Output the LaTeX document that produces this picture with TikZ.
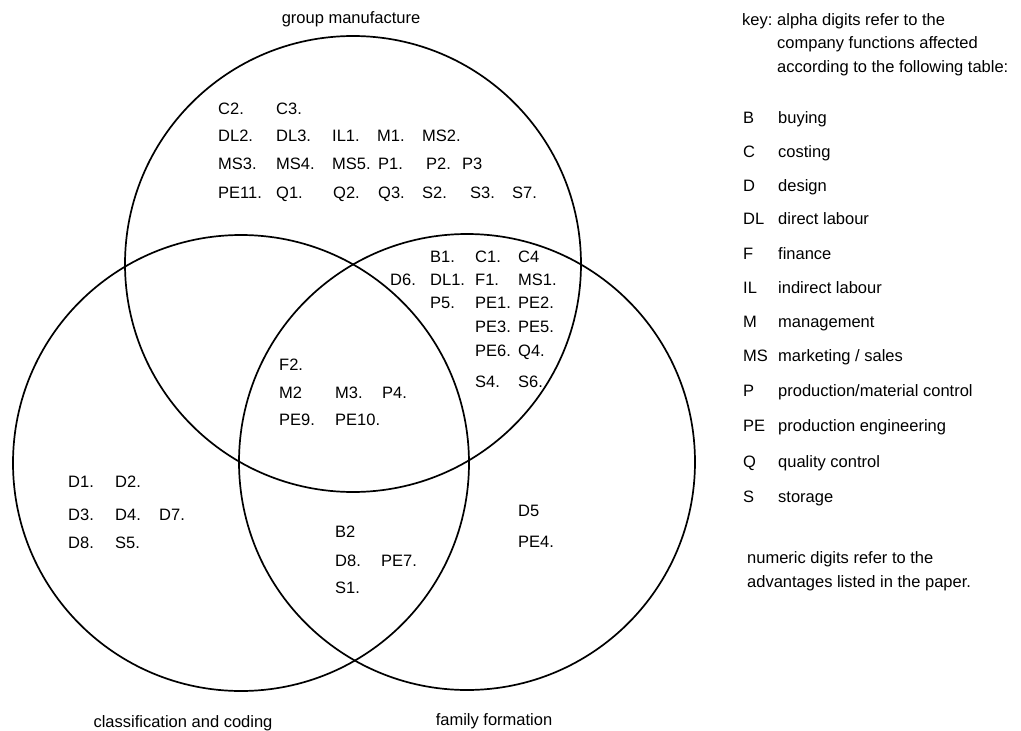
\documentclass[tikz,border=0pt]{standalone}
\usepackage{fontspec}
\setmainfont{Liberation Sans}
\begin{document}
\begin{tikzpicture}[x=1pt,y=-1pt,
  ring/.style={circle,draw,line width=1.7pt,minimum size=456pt,inner sep=0pt},
  lab/.style={anchor=base west,inner sep=0pt,font=\fontsize{16.5}{19}\selectfont},
  title/.style={anchor=base,inner sep=0pt,font=\fontsize{16.5}{19}\selectfont}]
\useasboundingbox (0,0) rectangle (1021,731);
% circles
\node[ring] (gm) at (353,264) {};
\node[ring] (cc) at (241,463) {};
\node[ring] (ff) at (467,462) {};
% circle titles
\node[title] (tgm) at (351,23) {group manufacture};
\node[title] (tcc) at (183,727) {classification and coding};
\node[title] (tff) at (494,725) {family formation};
% group manufacture only
\node[lab] (a1) at (218,114) {C2.};
\node[lab] (a2) at (276,114) {C3.};
\node[lab] (a3) at (218,141) {DL2.};
\node[lab] (a4) at (276,141) {DL3.};
\node[lab] (a5) at (332,141) {IL1.};
\node[lab] (a6) at (377,141) {M1.};
\node[lab] (a7) at (422,141) {MS2.};
\node[lab] (a8) at (218,169) {MS3.};
\node[lab] (a9) at (276,169) {MS4.};
\node[lab] (a10) at (332,169) {MS5.};
\node[lab] (a11) at (378,169) {P1.};
\node[lab] (a12) at (426,169) {P2.};
\node[lab] (a13) at (462,169) {P3};
\node[lab] (a14) at (218,198) {PE11.};
\node[lab] (a15) at (276,198) {Q1.};
\node[lab] (a16) at (333,198) {Q2.};
\node[lab] (a17) at (378,198) {Q3.};
\node[lab] (a18) at (422,198) {S2.};
\node[lab] (a19) at (470,198) {S3.};
\node[lab] (a20) at (512,198) {S7.};
% group manufacture and family formation
\node[lab] (b1) at (430,262) {B1.};
\node[lab] (b2) at (475,262) {C1.};
\node[lab] (b3) at (518,262) {C4};
\node[lab] (b4) at (390,285) {D6.};
\node[lab] (b5) at (430,285) {DL1.};
\node[lab] (b6) at (475,285) {F1.};
\node[lab] (b7) at (518,285) {MS1.};
\node[lab] (b8) at (430,308) {P5.};
\node[lab] (b9) at (475,308) {PE1.};
\node[lab] (b10) at (518,308) {PE2.};
\node[lab] (b11) at (475,332) {PE3.};
\node[lab] (b12) at (518,332) {PE5.};
\node[lab] (b13) at (475,356) {PE6.};
\node[lab] (b14) at (518,356) {Q4.};
\node[lab] (b15) at (475,387) {S4.};
\node[lab] (b16) at (518,387) {S6.};
% all three
\node[lab] (c1) at (279,370) {F2.};
\node[lab] (c2) at (279,398) {M2};
\node[lab] (c3) at (335,398) {M3.};
\node[lab] (c4) at (382,398) {P4.};
\node[lab] (c5) at (279,425) {PE9.};
\node[lab] (c6) at (335,425) {PE10.};
% classification only
\node[lab] (d1) at (68,487) {D1.};
\node[lab] (d2) at (115,487) {D2.};
\node[lab] (d3) at (68,520) {D3.};
\node[lab] (d4) at (115,520) {D4.};
\node[lab] (d5) at (159,520) {D7.};
\node[lab] (d6) at (68,548) {D8.};
\node[lab] (d7) at (115,548) {S5.};
% classification and family formation
\node[lab] (e1) at (335,537) {B2};
\node[lab] (e2) at (335,566) {D8.};
\node[lab] (e3) at (381,566) {PE7.};
\node[lab] (e4) at (335,593) {S1.};
% family formation only
\node[lab] (f1) at (518,516) {D5};
\node[lab] (f2) at (518,547) {PE4.};
% key
\node[lab] (k0) at (742,25) {key:};
\node[lab] (k1) at (777,25) {alpha digits refer to the};
\node[lab] (k2) at (777,48) {company functions affected};
\node[lab] (k3) at (777,72) {according to the following table:};
\node[lab] (kB) at (743,123.5) {B};
\node[lab] (kBt) at (778,123.5) {buying};
\node[lab] (kC) at (743,157.5) {C};
\node[lab] (kCt) at (778,157.5) {costing};
\node[lab] (kD) at (743,191.5) {D};
\node[lab] (kDt) at (778,191.5) {design};
\node[lab] (kDL) at (743,224.5) {DL};
\node[lab] (kDLt) at (778,224.5) {direct labour};
\node[lab] (kF) at (743,259.5) {F};
\node[lab] (kFt) at (778,259.5) {finance};
\node[lab] (kIL) at (743,293.5) {IL};
\node[lab] (kILt) at (778,293.5) {indirect labour};
\node[lab] (kM) at (743,327.5) {M};
\node[lab] (kMt) at (778,327.5) {management};
\node[lab] (kMS) at (743,361.5) {MS};
\node[lab] (kMSt) at (778,361.5) {marketing / sales};
\node[lab] (kP) at (743,396.5) {P};
\node[lab] (kPt) at (778,396.5) {production/material control};
\node[lab] (kPE) at (743,431.5) {PE};
\node[lab] (kPEt) at (778,431.5) {production engineering};
\node[lab] (kQ) at (743,467.5) {Q};
\node[lab] (kQt) at (778,467.5) {quality control};
\node[lab] (kS) at (743,502.5) {S};
\node[lab] (kSt) at (778,502.5) {storage};
\node[lab] (n1) at (747,563) {numeric digits refer to the};
\node[lab] (n2) at (747,587) {advantages listed in the paper.};
\end{tikzpicture}
\end{document}
